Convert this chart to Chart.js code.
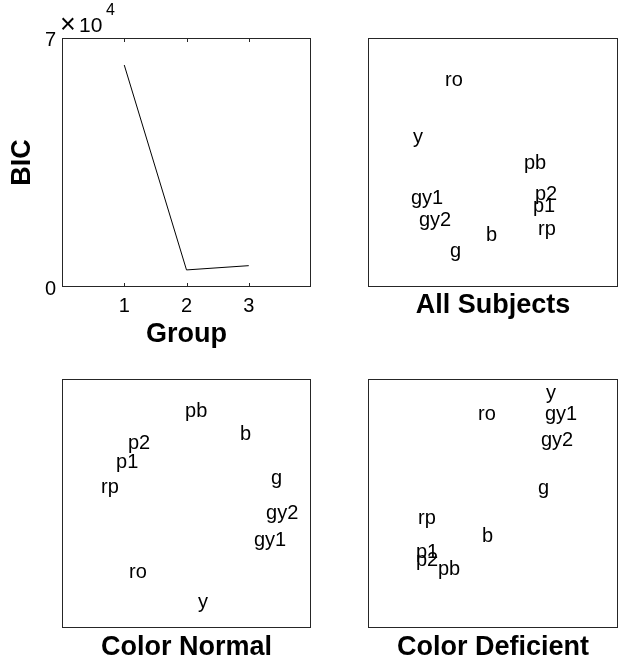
<!DOCTYPE html>
<html>
<head>
  <title>BIC and MDS plots</title>
  <script src="https://cdn.jsdelivr.net/npm/chart.js"></script>
  <style>
    body { margin: 0; background: #fff; overflow: hidden; }
    canvas { position: absolute; }
  </style>
</head>
<body>
  <canvas id="bic" width="340" height="360" style="left:0px;top:0px"></canvas>
  <canvas id="all" width="281" height="360" style="left:340px;top:0px"></canvas>
  <canvas id="normal" width="340" height="333" style="left:0px;top:328px"></canvas>
  <canvas id="deficient" width="281" height="333" style="left:340px;top:328px"></canvas>
  <script>
    // BIC per number of groups
    const groups = [1, 2, 3];
    const bic = [62400, 4800, 6000];
    const groupTicks = [1, 2, 3];
    const bicTicks = [0, 70000];

    // stimulus labels, same order in every panel
    const stimuli = ['ro', 'y', 'gy1', 'gy2', 'g', 'b', 'pb', 'p2', 'p1', 'rp'];
    const allX = [-0.384, -0.64, -0.656, -0.592, -0.344, -0.056, 0.248, 0.336, 0.32, 0.36];
    const allY = [0.690, 0.235, -0.261, -0.432, -0.679, -0.553, 0.028, -0.221, -0.320, -0.504];
    const normalX = [-0.462, 0.092, 0.542, 0.639, 0.679, 0.430, -0.012, -0.470, -0.566, -0.687];
    const normalY = [-0.520, -0.761, -0.266, -0.052, 0.229, 0.590, 0.770, 0.518, 0.363, 0.162];
    const deficientX = [-0.12, 0.424, 0.416, 0.384, 0.36, -0.088, -0.44, -0.616, -0.616, -0.6];
    const deficientY = [0.743, 0.912, 0.751, 0.537, 0.149, -0.231, -0.494, -0.427, -0.360, -0.092];

    const FONT = "'Liberation Sans', Arial, Helvetica, sans-serif";
    const titleFont = { family: FONT, size: 27, weight: 'bold', lineHeight: 1 };

    // box around the plot area (matlab style)
    const boxPlugin = {
      id: 'box',
      afterDraw(chart) {
        const a = chart.chartArea;
        const ctx = chart.ctx;
        ctx.save();
        ctx.strokeStyle = '#262626';
        ctx.lineWidth = 1;
        ctx.strokeRect(a.left + 0.5, a.top + 0.5, a.right - a.left - 1, a.bottom - a.top - 1);
        ctx.restore();
      }
    };

    // inner tick marks on top and bottom
    const innerTicks = {
      id: 'innerTicks',
      afterDraw(chart) {
        const a = chart.chartArea;
        const ctx = chart.ctx;
        const x = chart.scales.x;
        ctx.save();
        ctx.strokeStyle = '#262626';
        ctx.lineWidth = 1;
        x.ticks.forEach(t => {
          const px = Math.round(x.getPixelForValue(t.value)) + 0.5;
          ctx.beginPath();
          ctx.moveTo(px, a.bottom);
          ctx.lineTo(px, a.bottom - 4);
          ctx.moveTo(px, a.top);
          ctx.lineTo(px, a.top + 4);
          ctx.stroke();
        });
        ctx.restore();
      }
    };

    // x10^4 multiplier
    const exponentPlugin = {
      id: 'exponent',
      afterDraw(chart) {
        const ctx = chart.ctx;
        ctx.save();
        ctx.fillStyle = '#000';
        ctx.textBaseline = 'alphabetic';
        ctx.font = '27px ' + FONT;
        ctx.fillText('\u00d7', 60, 33);
        ctx.font = '21px ' + FONT;
        ctx.fillText('10', 79, 32);
        ctx.font = '16px ' + FONT;
        ctx.fillText('4', 106, 15);
        ctx.restore();
      }
    };

    // draw each stimulus name at its point
    const labelPlugin = {
      id: 'labels',
      afterDatasetsDraw(chart) {
        const ctx = chart.ctx;
        const xs = chart.scales.x, ys = chart.scales.y;
        ctx.save();
        ctx.fillStyle = '#000';
        ctx.font = '20px ' + FONT;
        ctx.textAlign = 'left';
        ctx.textBaseline = 'alphabetic';
        chart.data.datasets[0].data.forEach((p, i) => {
          ctx.fillText(stimuli[i], xs.getPixelForValue(p.x), ys.getPixelForValue(p.y) + 9.5);
        });
        ctx.restore();
      }
    };

    new Chart(document.getElementById('bic'), {
      type: 'line',
      data: {
        datasets: [{
          data: groups.map((g, i) => ({ x: g, y: bic[i] })),
          borderColor: '#000',
          borderWidth: 1,
          pointRadius: 0,
          tension: 0,
          fill: false
        }]
      },
      options: {
        responsive: false,
        animation: false,
        layout: { padding: { left: 0, top: 38, right: 29, bottom: 12 } },
        plugins: { legend: { display: false }, tooltip: { enabled: false } },
        scales: {
          x: {
            type: 'linear', min: 0, max: 4,
            afterBuildTicks: s => { s.ticks = groupTicks.map(v => ({ value: v })); },
            afterFit: s => { s.height = 61; },
            grid: { display: false, drawTicks: false },
            border: { display: false },
            ticks: { color: '#000', font: { family: FONT, size: 20 }, padding: 7 },
            title: { display: true, text: 'Group', color: '#000', font: titleFont, padding: 0 }
          },
          y: {
            min: 0, max: 70000,
            afterBuildTicks: s => { s.ticks = bicTicks.map(v => ({ value: v })); },
            afterFit: s => { s.width = 62; },
            grid: { display: false, drawTicks: false },
            border: { display: false },
            ticks: { color: '#000', font: { family: FONT, size: 20 }, padding: 6, labelOffset: 2,
                     callback: v => v / 10000 },
            title: { display: true, text: 'BIC', color: '#000', font: titleFont, padding: { top: 9, bottom: 0 } }
          }
        }
      },
      plugins: [boxPlugin, innerTicks, exponentPlugin]
    });

    function mdsChart(id, title, xs, ys, pad, axisHeight) {
      new Chart(document.getElementById(id), {
        type: 'scatter',
        data: {
          datasets: [{ data: xs.map((v, i) => ({ x: v, y: ys[i] })), pointRadius: 0 }]
        },
        options: {
          responsive: false,
          animation: false,
          layout: { padding: pad },
          plugins: { legend: { display: false }, tooltip: { enabled: false } },
          scales: {
            x: {
              type: 'linear', min: -1, max: 1,
              afterFit: s => { s.height = axisHeight; },
              grid: { display: false },
              border: { display: false },
              ticks: { display: false },
              title: { display: true, text: title, color: '#000', font: titleFont, padding: 0 }
            },
            y: { type: 'linear', min: -1, max: 1, display: false }
          }
        },
        plugins: [boxPlugin, labelPlugin]
      });
    }

    mdsChart('all', 'All Subjects', allX, allY, { left: 28, top: 38, right: 3, bottom: 41 }, 32);
    mdsChart('normal', 'Color Normal', normalX, normalY, { left: 62, top: 51, right: 29, bottom: 0 }, 33);
    mdsChart('deficient', 'Color Deficient', deficientX, deficientY, { left: 28, top: 51, right: 3, bottom: 0 }, 33);
  </script>
</body>
</html>
